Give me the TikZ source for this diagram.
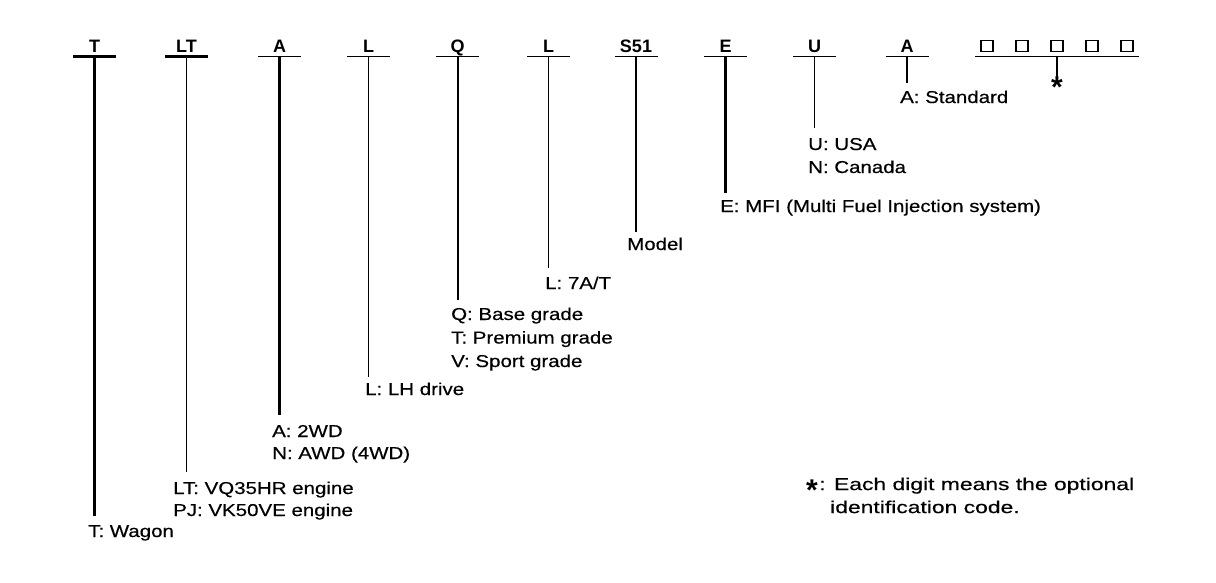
\documentclass[tikz,border=0pt]{standalone}
\usepackage{fontspec}
\setmainfont[FakeStretch=1.19,FakeBold=0.4]{Liberation Sans}
\newfontfamily\codefont{Liberation Sans}
\newfontfamily\notefont[FakeStretch=1.33,FakeBold=0.4]{Liberation Sans}
\begin{document}
\begin{tikzpicture}[x=1pt,y=-1pt,
  lbl/.style={anchor=base west,inner sep=0pt,font=\fontsize{17.2}{20}\selectfont},
  note/.style={anchor=north west,inner sep=0pt,align=left,font=\notefont\fontsize{17.2}{23}\selectfont},
  code/.style={anchor=base,inner sep=0pt,font=\codefont\bfseries\fontsize{18}{20}\selectfont},
  starmark/.style={anchor=north,inner sep=0pt,font=\codefont\bfseries\fontsize{30}{30}\selectfont},
  digitbox/.style={draw,line width=1.1pt,minimum width=12pt,minimum height=11pt,inner sep=0pt}]
\useasboundingbox (0,0) rectangle (1216,582);
\fill[white] (0,0) rectangle (1216,582);

% code columns: name / x / text / bottom y / bar width / stem width
\foreach \n/\x/\t/\yb/\hw/\vw in {
  T/94.5/T/516/2.2/2.2,
  LT/186.5/LT/472/2.2/1.3,
  A/279.5/A/415/1.1/2.2,
  L/368.5/L/377/1.1/1.1,
  Q/457.5/Q/300/1.1/2.0,
  LL/548.5/L/268/1.1/1.1,
  S/636/S51/232/1.1/1.8,
  E/725.5/E/193/1.1/3.0,
  U/814.5/U/128/1.1/1.1,
  AA/907/A/83/1.1/2.0}{
  \node[code] (c\n) at (\x,52) {\t};
  \draw[line width=\hw pt] ({\x-21.5},56.5) -- ({\x+21.5},56.5);
  \coordinate (t\n) at (\x,56.5);
  \coordinate (b\n) at (\x,\yb);
  \draw[line width=\vw pt] (t\n) -- (b\n);
}

% optional digit boxes
\foreach \i/\x in {1/987,2/1022,3/1057,4/1092,5/1127}{
  \node[digitbox] (box\i) at (\x,46) {};
}
\draw[line width=1.1pt] (975,56.5) -- (1139,56.5);
\coordinate (tstar) at (1057,56.5);
\node[starmark] (star) at (1057,77) {*};
\draw[line width=1.5pt] (tstar) -- (star.north);

% descriptions
\node[lbl] (dT) at (88,537) {T: Wagon};
\node[lbl] (dLT1) at (173,494) {LT: VQ35HR engine};
\node[lbl] (dLT2) at (173,516) {PJ: VK50VE engine};
\node[lbl] (dA1) at (272,437) {A: 2WD};
\node[lbl] (dA2) at (272,459) {N: AWD (4WD)};
\node[lbl] (dL) at (365,395) {L: LH drive};
\node[lbl] (dQ1) at (451,320) {Q: Base grade};
\node[lbl] (dQ2) at (451,343.5) {T: Premium grade};
\node[lbl] (dQ3) at (451,367) {V: Sport grade};
\node[lbl] (dLL) at (545,289) {L: 7A/T};
\node[lbl] (dS) at (627,250) {Model};
\node[lbl] (dE) at (720,212) {E: MFI (Multi Fuel Injection system)};
\node[lbl] (dU1) at (808,150) {U: USA};
\node[lbl] (dU2) at (808,173) {N: Canada};
\node[lbl] (dAA) at (900,103) {A: Standard};

% footnote
\node[starmark] (nstar) at (812,480) {*};
\node[note] (n1) at (819,477.4) {: Each digit means the optional\\\hspace*{11pt}identification code.};
\end{tikzpicture}
\end{document}
